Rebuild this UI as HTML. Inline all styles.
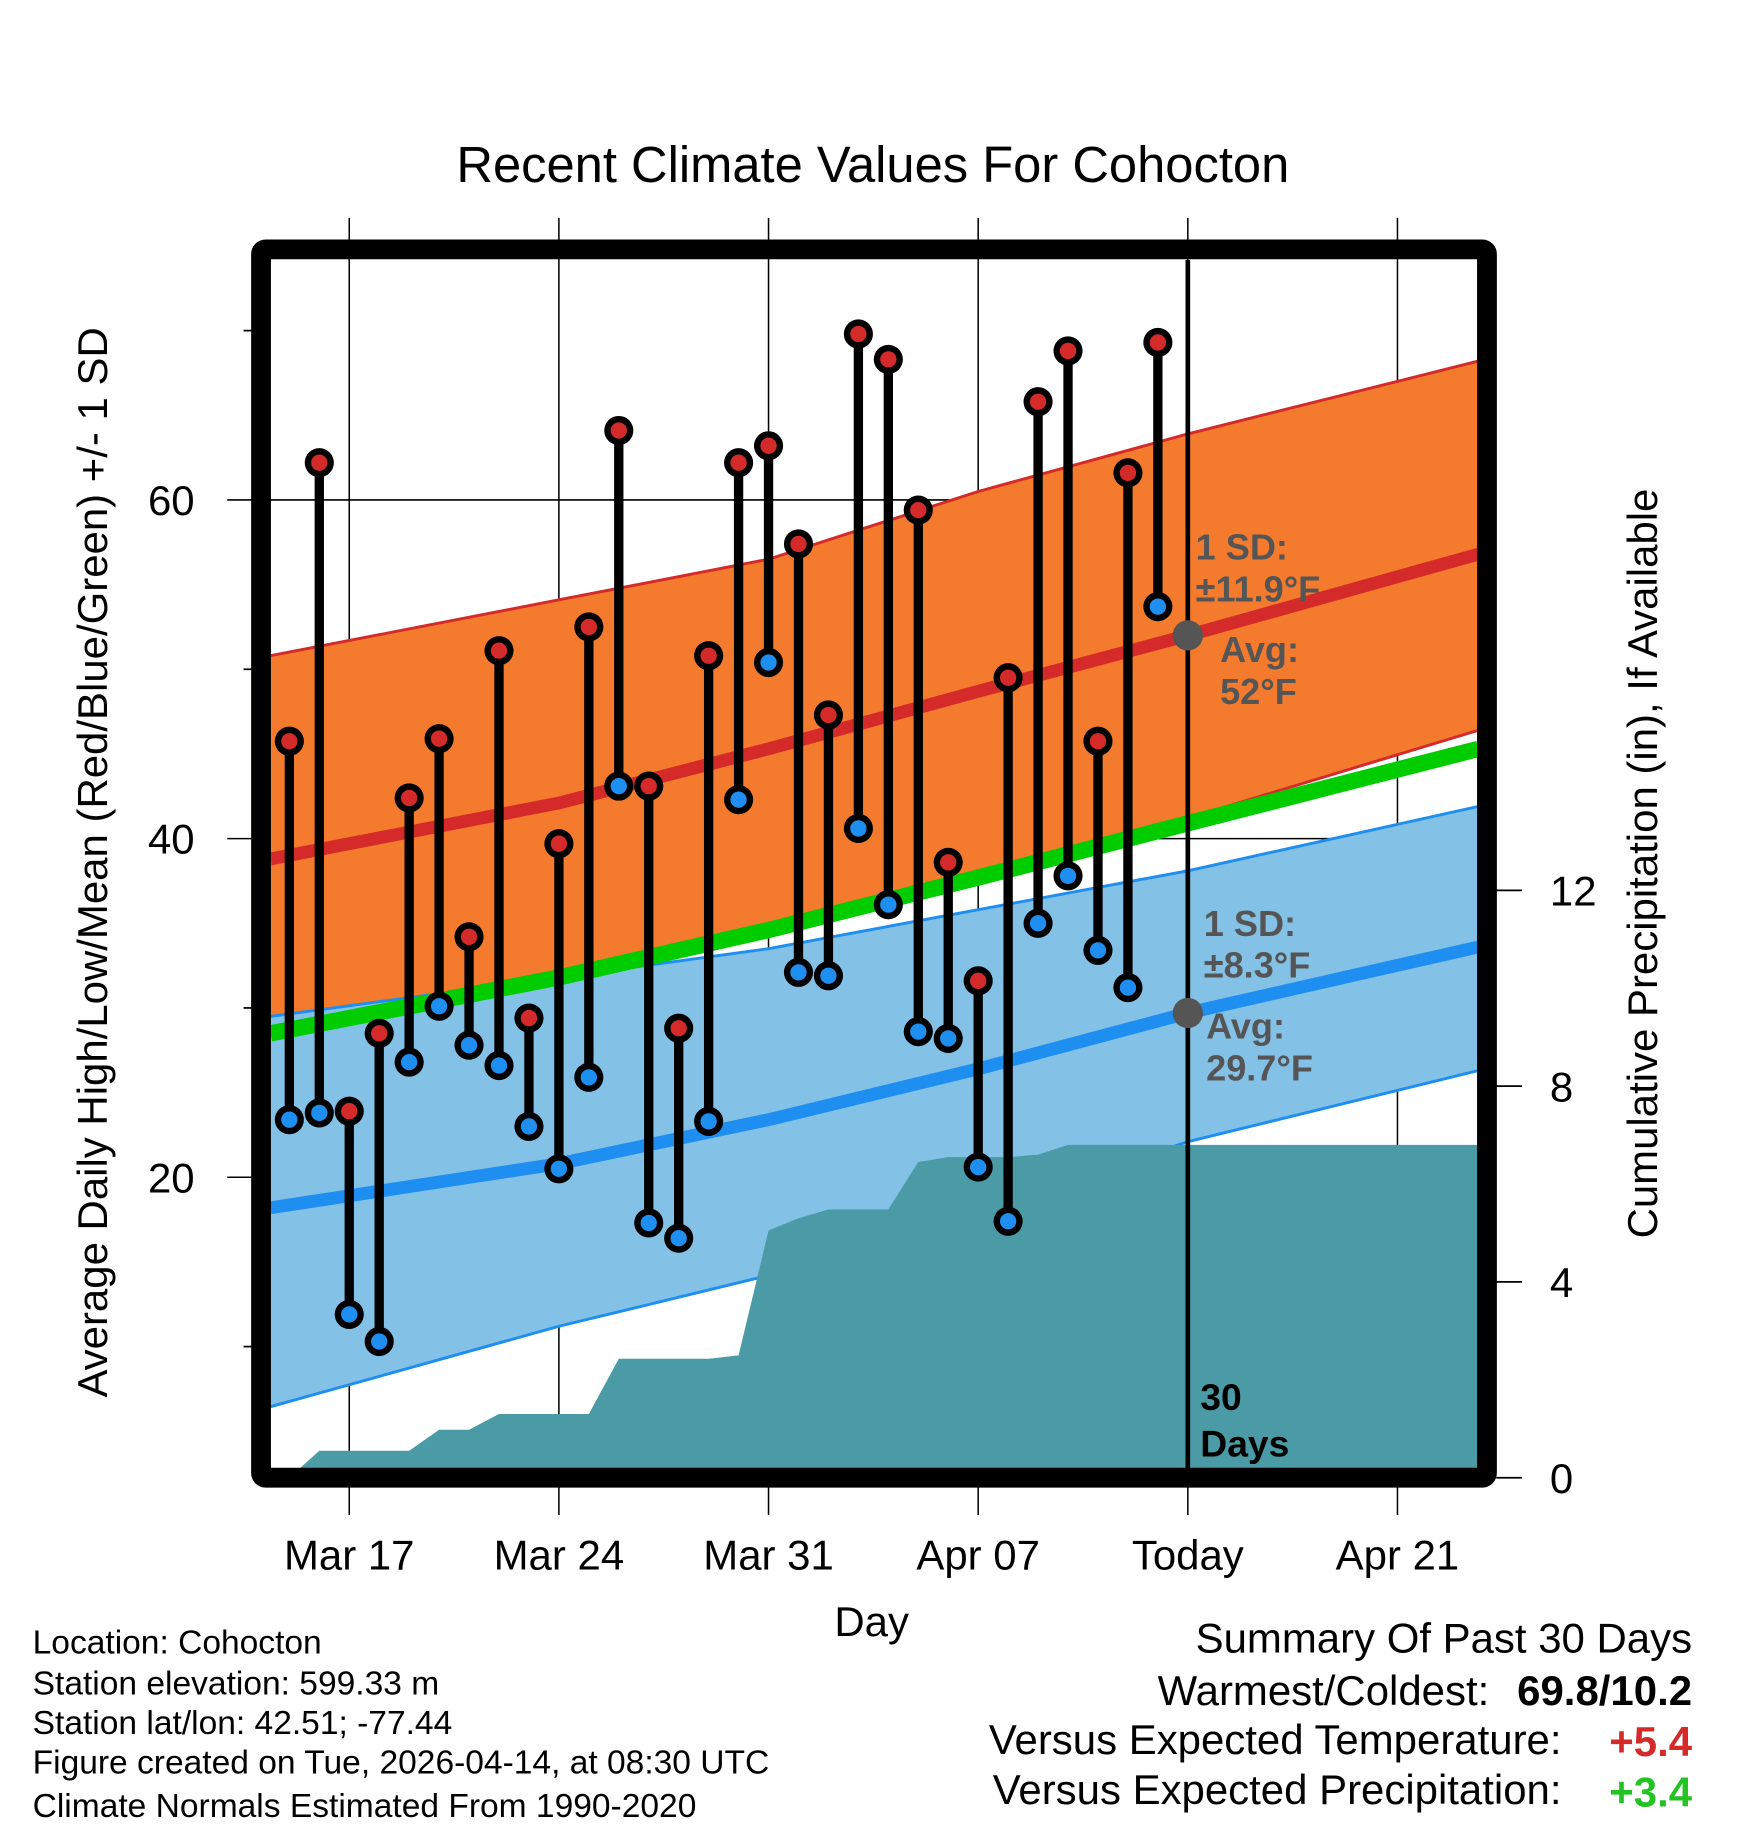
<!DOCTYPE html>
<html><head><meta charset="utf-8"><style>
html,body{margin:0;padding:0;background:#fff;}
svg{display:block;font-family:"Liberation Sans",Arial,sans-serif;}
</style></head><body>
<svg id="chart" width="1748" height="1828" viewBox="0 0 1500 1568.6" preserveAspectRatio="none" xmlns="http://www.w3.org/2000/svg">
<defs><clipPath id="plotclip"><rect x="232" y="223" width="1036" height="1037"/></clipPath></defs>
<text x="749" y="156" font-size="43.5" text-anchor="middle">Recent Climate Values For Cohocton</text>
<g id="grid"></g>
<g id="plot" clip-path="url(#plotclip)"></g>
<g id="marks"></g>
<rect x="224" y="214" width="1052" height="1054" fill="none" stroke="#000" stroke-width="17" rx="4"/>
<g id="axes"></g>
<text x="748" y="1404" font-size="36" text-anchor="middle">Day</text>
<text transform="translate(92,740) rotate(-90)" font-size="36" text-anchor="middle">Average Daily High/Low/Mean (Red/Blue/Green) +/- 1 SD</text>
<text transform="translate(1422,741) rotate(-90)" font-size="36" text-anchor="middle">Cumulative Precipitation (in), If Available</text>
<g font-size="28.8">
<text x="28" y="1419">Location: Cohocton</text>
<text x="28" y="1454">Station elevation: 599.33 m</text>
<text x="28" y="1488">Station lat/lon: 42.51; -77.44</text>
<text x="28" y="1522">Figure created on Tue, 2026-04-14, at 08:30 UTC</text>
<text x="28" y="1559">Climate Normals Estimated From 1990-2020</text>
</g>
<g font-size="36">
<text x="1452" y="1418" text-anchor="end">Summary Of Past 30 Days</text>
<text x="1278" y="1463" text-anchor="end">Warmest/Coldest:</text>
<text x="1452" y="1463" text-anchor="end" font-weight="bold">69.8/10.2</text>
<text x="1340" y="1505" text-anchor="end">Versus Expected Temperature:</text>
<text x="1452" y="1507" text-anchor="end" font-weight="bold" fill="#d42a2a">+5.4</text>
<text x="1340" y="1548" text-anchor="end">Versus Expected Precipitation:</text>
<text x="1452" y="1550" text-anchor="end" font-weight="bold" fill="#22c322">+3.4</text>
</g>
</svg>
<script>
const dayStart = -2;
const highs = [45.75,62.2,23.9,28.5,42.4,45.9,34.2,51.1,29.4,39.7,52.5,64.1,43.1,28.8,50.8,62.2,63.2,57.4,47.3,69.8,68.3,59.4,38.6,31.6,49.5,65.8,68.8,45.75,61.6,69.3];
const lows = [23.4,23.8,11.9,10.3,26.8,30.1,27.8,26.6,23.0,20.5,25.9,43.1,17.3,16.4,23.3,42.3,50.4,32.1,31.9,40.6,36.1,28.6,28.2,20.6,17.4,35.0,37.8,33.4,31.2,53.7];
const precip = [0,0.55,0.55,0.55,0.55,0.98,0.98,1.3,1.3,1.3,1.3,2.43,2.43,2.43,2.43,2.5,5.05,5.3,5.48,5.48,5.48,6.45,6.55,6.55,6.55,6.6,6.8,6.8,6.8,6.8];
const normDays = [-2.63,7,14,21,28,37.7];
const highUpper = [50.8,54.1,56.5,60.5,63.9,68.2];
const highMean = [38.8,42.1,45.3,48.7,52.0,56.8];
const highLower = [27.6,31.4,34.6,37.9,41.2,46.4];
const meanLine = [28.5,31.8,34.6,37.7,40.9,45.3];
const lowUpper = [29.5,31.8,33.5,35.8,38.1,41.9];
const lowMean = [18.2,20.8,23.4,26.4,29.7,33.6];
const lowLower = [6.45,11.2,14.2,18.0,22.1,26.3];
const xTicks = [0,7,14,21,28,35];
const xTickLabels = ["Mar 17","Mar 24","Mar 31","Apr 07","Today","Apr 21"];
const yTicks = [20,40,60];
const yMinor = [10,30,50,70];
const y2Ticks = [0,4,8,12];

const NS="http://www.w3.org/2000/svg";
const X = d => 299.7 + d*25.7;
const Y = v => 429 - (v-60)*14.53;
const Y2 = p => 1268 - p*42;
function mk(parent, tag, attrs){const e=document.createElementNS(NS,tag);for(const k in attrs)e.setAttribute(k,attrs[k]);parent.appendChild(e);return e;}
const plot=document.getElementById('plot'), grid=document.getElementById('grid'), marks=document.getElementById('marks'), axes=document.getElementById('axes');
const pts=(arr)=>normDays.map((d,i)=>X(d)+','+Y(arr[i]));
function band(up,lo,fill,edge,name){
  const p=pts(up).concat(pts(lo).reverse());
  const b=mk(plot,'polygon',{points:p.join(' '),fill:fill});
  
  
  [up,lo].forEach(a=>{const l=mk(plot,'polyline',{points:pts(a).join(' '),fill:'none',stroke:edge,'stroke-width':2.5});
  
  });
}
band(highUpper,highLower,'#f47a2e','#d42a2a','high-sd-band');
band(lowUpper,lowLower,'#83c1e6','#1e8ff0','low-sd-band');
xTicks.forEach(d=>{const l=mk(grid,'line',{x1:X(d),x2:X(d),y1:187,y2:1300,stroke:'#000','stroke-width':1.3});

});
yTicks.forEach(v=>{const l=mk(grid,'line',{x1:195,x2:1268,y1:Y(v),y2:Y(v),stroke:'#000','stroke-width':1.3});

});
[['meanLine','#00cc00',14,meanLine],['highMean','#d42a2a',11,highMean],['lowMean','#1e8ff0',11,lowMean]].forEach(s=>{
 const l=mk(plot,'polyline',{points:pts(s[3]).join(' '),fill:'none',stroke:s[1],'stroke-width':s[2]});
 
 });
let pp=[X(dayStart-0.4)+','+Y2(0)];
precip.forEach((p,i)=>pp.push(X(dayStart+i)+','+Y2(p)));
pp.push(X(37.7)+','+Y2(precip[precip.length-1]));
pp.push(X(37.7)+','+Y2(0));
const pa=mk(plot,'polygon',{points:pp.join(' '),fill:'#4a9ba5'});


const tl=mk(plot,'line',{x1:X(28),x2:X(28),y1:223,y2:1260,stroke:'#000','stroke-width':4});


highs.forEach((h,i)=>{
 const x=X(dayStart+i);
 const s=mk(marks,'line',{x1:x,x2:x,y1:Y(h),y2:Y(lows[i]),stroke:'#000','stroke-width':8});
 
 
 [[h,'#d42a2a','high-point'],[lows[i],'#1e8ff0','low-point']].forEach(q=>{
  const c=mk(marks,'circle',{cx:x,cy:Y(q[0]),r:12.5,fill:'#000'});
  
  
  const c2=mk(marks,'circle',{cx:x,cy:Y(q[0]),r:7,fill:q[1]});
  
  
 });
});
[[highMean[4]],[lowMean[4]]].forEach(v=>{const c=mk(marks,'circle',{cx:X(28),cy:Y(v[0]),r:13,fill:'#555'});

});
const ann=[["1 SD:",1026,480],["±11.9°F",1026,516],["Avg:",1047,568],["52°F",1047,604],["1 SD:",1033,803],["±8.3°F",1033,839],["Avg:",1035,891],["29.7°F",1035,927]];
ann.forEach(a=>{const t=mk(marks,'text',{x:a[1],y:a[2],'font-size':31,'font-weight':'bold',fill:'#555'});t.textContent=a[0];

});
[["30",1210],["Days",1250]].forEach(a=>{const t=mk(marks,'text',{x:1030,y:a[1],'font-size':32,'font-weight':'bold',fill:'#000'});t.textContent=a[0];

});
xTicks.forEach((d,i)=>{const t=mk(axes,'text',{x:X(d),y:1347,'font-size':36,'text-anchor':'middle'});t.textContent=xTickLabels[i];

});
yTicks.forEach(v=>{const t=mk(axes,'text',{x:167,y:Y(v)+13,'font-size':36,'text-anchor':'end'});t.textContent=v;

});
yMinor.forEach(v=>{const l=mk(axes,'line',{x1:209,x2:218,y1:Y(v),y2:Y(v),stroke:'#000','stroke-width':1.5});

});
y2Ticks.forEach(p=>{const l=mk(axes,'line',{x1:1284,x2:1306,y1:Y2(p),y2:Y2(p),stroke:'#000','stroke-width':1.5});


const t=mk(axes,'text',{x:1330,y:Y2(p)+13,'font-size':36});t.textContent=p;

});
</script>
</body></html>
